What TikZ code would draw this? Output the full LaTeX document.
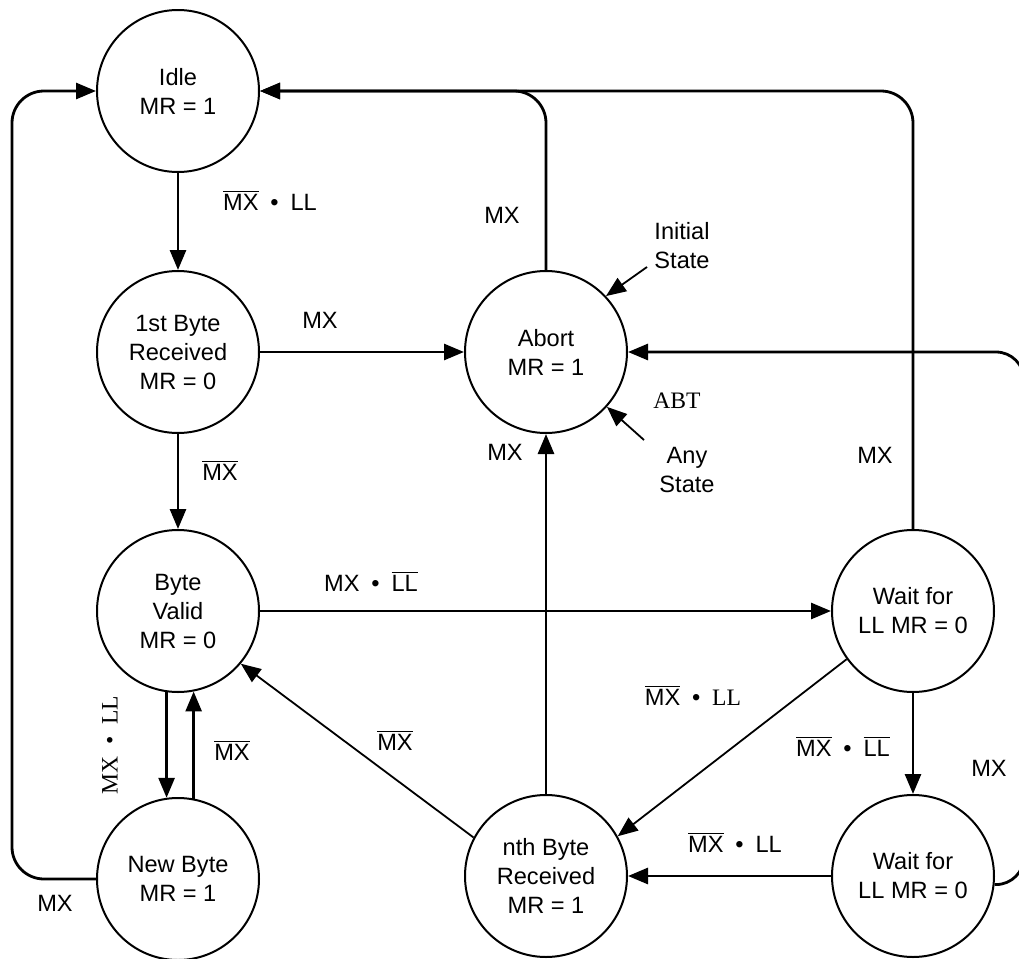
\documentclass[tikz,border=0pt]{standalone}
\usepackage{fontspec}
\setmainfont{Liberation Sans}
\newfontfamily\serif{Liberation Serif}
\usetikzlibrary{arrows.meta,positioning}
\newcommand{\nbar}[1]{$\overline{\mbox{#1}}$}
\newcommand{\dotop}{\enspace\textbullet\enspace}
\tikzset{>={Triangle[length=10pt,width=8pt]},
  state/.style={circle,draw,line width=1pt,minimum size=81pt,inner sep=0pt,align=center,font=\fontsize{11.8}{14.5}\selectfont},
  arr/.style={->,line width=1.4pt},
  thinarr/.style={->,line width=0.9pt},
  lbl/.style={font=\fontsize{11.8}{14.5}\selectfont,inner sep=1pt,align=center},
  seriflbl/.style={lbl,font=\serif\fontsize{11.8}{14.5}\selectfont}}

\begin{document}
\begin{tikzpicture}[x=0.5pt,y=-0.5pt]
\clip (0,0) rectangle (1019,959);
% states
\node[state] (idle) at (178,91) {Idle\\MR = 1};
\node[state] (first) at (178,352) {1st Byte\\Received\\MR = 0};
\node[state] (valid) at (178,611) {Byte\\Valid\\MR = 0};
\node[state] (newbyte) at (178,879) {New Byte\\MR = 1};
\node[state] (abort) at (546,352) {Abort\\MR = 1};
\node[state] (nth) at (546,876) {nth Byte\\Received\\MR = 1};
\node[state] (wait1) at (913,611) {Wait for\\LL MR = 0};
\node[state] (wait2) at (913,876) {Wait for\\LL MR = 0};
\coordinate (lft) at (12,500);
\coordinate (rgt) at (1024,352);
% transitions
\draw[arr] (idle) -- (first);
\draw[arr] (first) -- (abort);
\draw[arr] (first.south) -- (valid.north);
\draw[arr] (valid) -- (wait1);
\draw[arr] (valid.-98) -- (newbyte.98);
\draw[arr] (newbyte.79) -- (valid.-79);
\draw[thinarr] (nth.152) -- (valid.-40);
\draw[arr] (nth) -- (abort);
\draw[thinarr] (wait1.216) -- (nth.29);
\draw[arr] (wait1) -- (wait2);
\draw[arr] (wait2) -- (nth);
\draw[arr,rounded corners=16pt] (abort.north) |- (idle.east);
\draw[arr,rounded corners=16pt] (wait1.north) |- (idle.east);
\draw[arr,rounded corners=16pt] (newbyte.west) -| (lft) |- (idle.west);
\draw[arr,rounded corners=14pt] (wait2.-6) -| (rgt) -- (abort.east);
% labels
\node[lbl] (l1) at (270,200) {\nbar{MX}\dotop LL};
\node[lbl] (l2) at (320,320) {MX};
\node[lbl] (l3) at (502,215) {MX};
\node[lbl] (l4) at (220,470) {\nbar{MX}};
\node[lbl] (l5) at (371,581) {MX\dotop\nbar{LL}};
\node[seriflbl,rotate=90] (l6) at (110,745) {MX\dotop LL};
\node[lbl] (l7) at (232,750) {\nbar{MX}};
\node[lbl] (l8) at (395,740) {\nbar{MX}};
\node[lbl] (l9) at (505,452) {MX};
\node[lbl] (l10) at (55,903) {MX};
\node[lbl] (l11) at (875,455) {MX};
\node[lbl] (l12) at (693,695) {\nbar{MX}\dotop{\serif LL}};
\node[lbl] (l13) at (843,746) {\nbar{MX}\dotop\nbar{LL}};
\node[lbl] (l14) at (989,768) {MX};
\node[lbl] (l15) at (735,842) {\nbar{MX}\dotop LL};
% entry markers
\node[lbl] (init) at (682,246) {Initial\\State};
\node[lbl] (any) at (687,470) {Any\\State};
\node[seriflbl] (abt) at (677,401) {ABT};
\coordinate (inittail) at (647,267);
\coordinate (anytail) at (644,440);
\draw[thinarr] (inittail) -- (abort.43);
\draw[thinarr] (anytail) -- (abort.-42);
\end{tikzpicture}
\end{document}
